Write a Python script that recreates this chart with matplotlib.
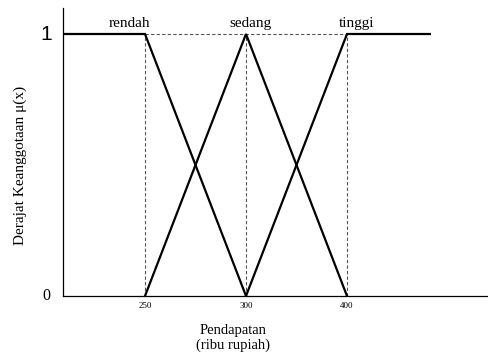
import matplotlib.pyplot as plt

# posisi sumbu x pakai indeks (jarak tick sama rata di gambar)
tick_pos = [1, 2, 3]
tick_labels = ["250", "300", "400"]

rendah_x = [0.19, 1, 2]
rendah_mu = [1, 1, 0]
sedang_x = [1, 2, 3]
sedang_mu = [0, 1, 0]
tinggi_x = [2, 3, 3.82]
tinggi_mu = [0, 1, 1]

names = ["rendah", "sedang", "tinggi"]
name_x = [0.85, 2.04, 3.09]

plt.rcParams["font.family"] = ["Liberation Serif", "DejaVu Serif"]

fig = plt.figure(figsize=(4.88, 3.58), dpi=100)
ax = fig.add_axes([63 / 488, 1 - 296 / 358, 1 - 63 / 488, 288 / 358])

# garis bantu putus-putus
for p in tick_pos:
    ax.plot([p, p], [0, 1], color="#555555", lw=0.8, ls=(0, (3, 2)))
ax.plot([tick_pos[0], tick_pos[-1]], [1, 1], color="#555555", lw=0.8, ls=(0, (3, 2)))

for xs, mu in [(rendah_x, rendah_mu), (sedang_x, sedang_mu), (tinggi_x, tinggi_mu)]:
    ax.plot(xs, mu, color="black", lw=1.6, solid_joinstyle="miter")

for n, x in zip(names, name_x):
    ax.text(x, 1.028, n, ha="center", va="baseline", fontsize=11)

ax.set_xlim(1 - 82 / 101, 3 + 141 / 101)
ax.set_ylim(0, 1 + 26 / 262)

for s in ["top", "right"]:
    ax.spines[s].set_visible(False)
for s in ["left", "bottom"]:
    ax.spines[s].set_linewidth(0.9)

ax.set_xticks(tick_pos)
ax.set_xticklabels(tick_labels, fontsize=6.5)
ax.set_yticks([])
ax.tick_params(axis="x", length=0, pad=4)

ax.text(-0.026, 1, "1", transform=ax.get_yaxis_transform(), ha="right", va="center",
        fontsize=15, family="Liberation Sans")
ax.text(-0.03, 0, "0", transform=ax.get_yaxis_transform(), ha="right", va="center",
        fontsize=11.5)

fig.text(20 / 488, 1 - 165 / 358, "Derajat Keanggotaan μ(x)", rotation=90,
         ha="center", va="center", fontsize=11)
fig.text(233 / 488, 1 - 338 / 358, "Pendapatan\n(ribu rupiah)", ha="center",
         va="center", fontsize=10.5, linespacing=1.2)

fig.savefig("out.png", dpi=100)
